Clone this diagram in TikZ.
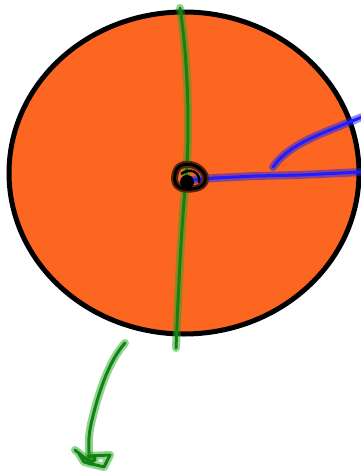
\documentclass[tikz,border=0pt]{standalone}
\usepackage{xcolor}
\usetikzlibrary{calc}
\definecolor{peel}{RGB}{252,102,32}
\definecolor{stemgreen}{RGB}{30,170,30}
\definecolor{penblue}{RGB}{30,30,255}
\tikzset{
	halo/.style={line width=8pt,opacity=0.5,line cap=round,line join=round},
	core/.style={line width=3pt,line cap=round,line join=round},
}

\begin{document}
\begin{tikzpicture}[x=1pt,y=-1pt]
	\useasboundingbox (0,0) rectangle (361,474);
	% orange disc
	\coordinate (O) at (184,173);
	\filldraw[fill=peel,draw=black,line width=5pt] (O) ellipse (175 and 161);
	
	% green axis
	\coordinate (T) at (180,8);
	\coordinate (U) at (176,348);
	\draw[halo,stemgreen] (T) .. controls (188,60) and (190,130) .. (186,178) .. controls (181,230) and (178,300) .. (U);
	\draw[core,stemgreen!75!black] (T) .. controls (188,60) and (190,130) .. (186,178) .. controls (181,230) and (178,300) .. (U);
	
	% blue radius and arc
	\coordinate (C) at (192,180);
	\coordinate (R) at (362,172);
	\coordinate (P) at (273,167);
	\coordinate (Q) at (362,117);
	\draw[halo,penblue] (C) -- (215,178) -- (255,176) -- (300,175) -- (R);
	\draw[core,penblue] (C) -- (215,178) -- (255,176) -- (300,175) -- (R);
	\draw[halo,penblue] (P) .. controls (285,150) and (305,140) .. (330,130) -- (Q);
	\draw[core,penblue] (P) .. controls (285,150) and (305,140) .. (330,130) -- (Q);
	
	% centre scribble
	\draw[line width=7pt,black!65!peel,line join=round] (177,169) .. controls (182,161) and (199,163) .. (205,175) .. controls (208,187) and (196,190) .. (184,189) .. controls (173,187) and (173,177) .. (177,169) -- cycle;
	\draw[line width=3pt,black,line join=round] (177,169) .. controls (182,161) and (199,163) .. (205,175) .. controls (208,187) and (196,190) .. (184,189) .. controls (173,187) and (173,177) .. (177,169) -- cycle;
	\draw[line width=2.5pt,black] (181,174) .. controls (190,167) and (201,172) .. (199,183);
	\fill[black] (187,182) circle (7);
	
	% green arrow below
	\coordinate (S) at (125,343);
	\coordinate (E) at (90,462);
	\draw[halo,stemgreen] (S) .. controls (108,362) and (98,395) .. (92,420) .. controls (87,440) and (89,452) .. (E);
	\draw[core,stemgreen!75!black] (S) .. controls (108,362) and (98,395) .. (92,420) .. controls (87,440) and (89,452) .. (E);
	\draw[halo,stemgreen] (75,450) -- (85,458) .. controls (95,466) and (100,456) .. (88,456) -- (110,455) -- (104,467) -- (84,462) -- (78,452);
	\draw[core,stemgreen!75!black] (75,450) -- (85,458) .. controls (95,466) and (100,456) .. (88,456) -- (110,455) -- (104,467) -- (84,462) -- (78,452);
\end{tikzpicture}
\end{document}
